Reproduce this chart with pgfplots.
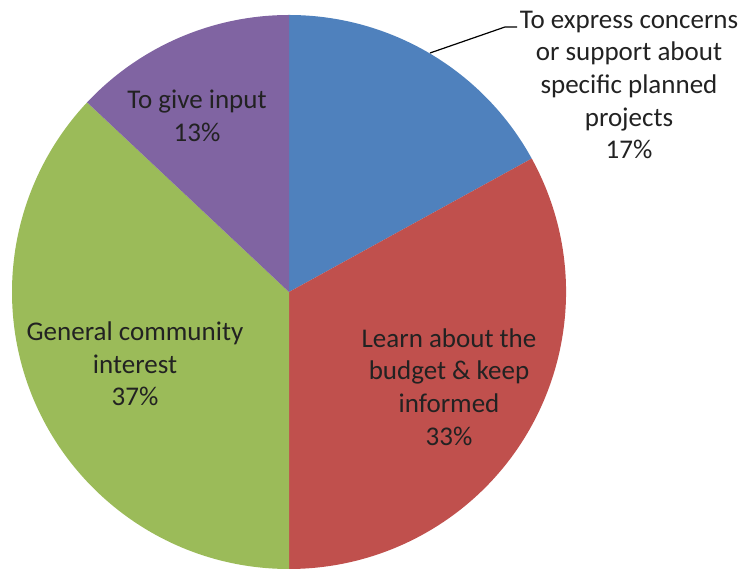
\documentclass[border=0pt]{standalone}
\usepackage{pgfplots}
\usepackage{pgfplotstable}
\pgfplotsset{compat=1.18}
\usepackage{fontspec}
\setmainfont{Carlito}

\definecolor{pblue}{HTML}{4F81BD}
\definecolor{pred}{HTML}{C0504D}
\definecolor{pgreen}{HTML}{9BBB59}
\definecolor{ppurple}{HTML}{8064A2}
\definecolor{txt}{HTML}{222222}

% share of each answer, clockwise from 12 o'clock
\pgfplotstableread{
pct
17
33
37
13
}\piedata

\begin{document}
\begin{tikzpicture}
\begin{axis}[
hide axis,
x=1pt, y=1pt,
xmin=0, xmax=744,
ymin=0, ymax=569,
clip=false,
]
\coordinate (SW) at (axis cs:0,0);
\coordinate (NE) at (axis cs:744,569);

\def\angleA{90}
\pgfplotsforeachungrouped \i in {0,...,3}{
  \pgfplotstablegetelem{\i}{pct}\of\piedata
  \pgfmathsetmacro\angleB{\angleA-3.6*\pgfplotsretval}
  \edef\temp{\noexpand\fill[\ifcase\i pblue\or pred\or pgreen\else ppurple\fi]
    (axis cs:289,277) -- ++(\angleA:277pt)
    arc[start angle=\angleA, end angle=\angleB, radius=277pt] -- cycle;}
  \temp
  \global\let\angleA\angleB
}

% leader line for the blue slice
\draw[black, line width=1.2pt] (axis cs:430,516) -- (axis cs:505,542) -- (axis cs:517,542);

\tikzset{lbl/.style={text=txt, align=center, inner sep=0pt,
  font=\fontsize{27}{32.7}\selectfont}}
\node[lbl] at (axis cs:629,484) {To express concerns\\or support about\\specific planned\\projects\\17\%};
\node[lbl] at (axis cs:449,182) {Learn about the\\budget \& keep\\informed\\33\%};
\node[lbl] at (axis cs:135,205) {General community\\interest\\37\%};
\node[lbl] at (axis cs:197,453) {To give input\\13\%};
\end{axis}
\pgfresetboundingbox
\path (SW) rectangle (NE);
\end{tikzpicture}
\end{document}
